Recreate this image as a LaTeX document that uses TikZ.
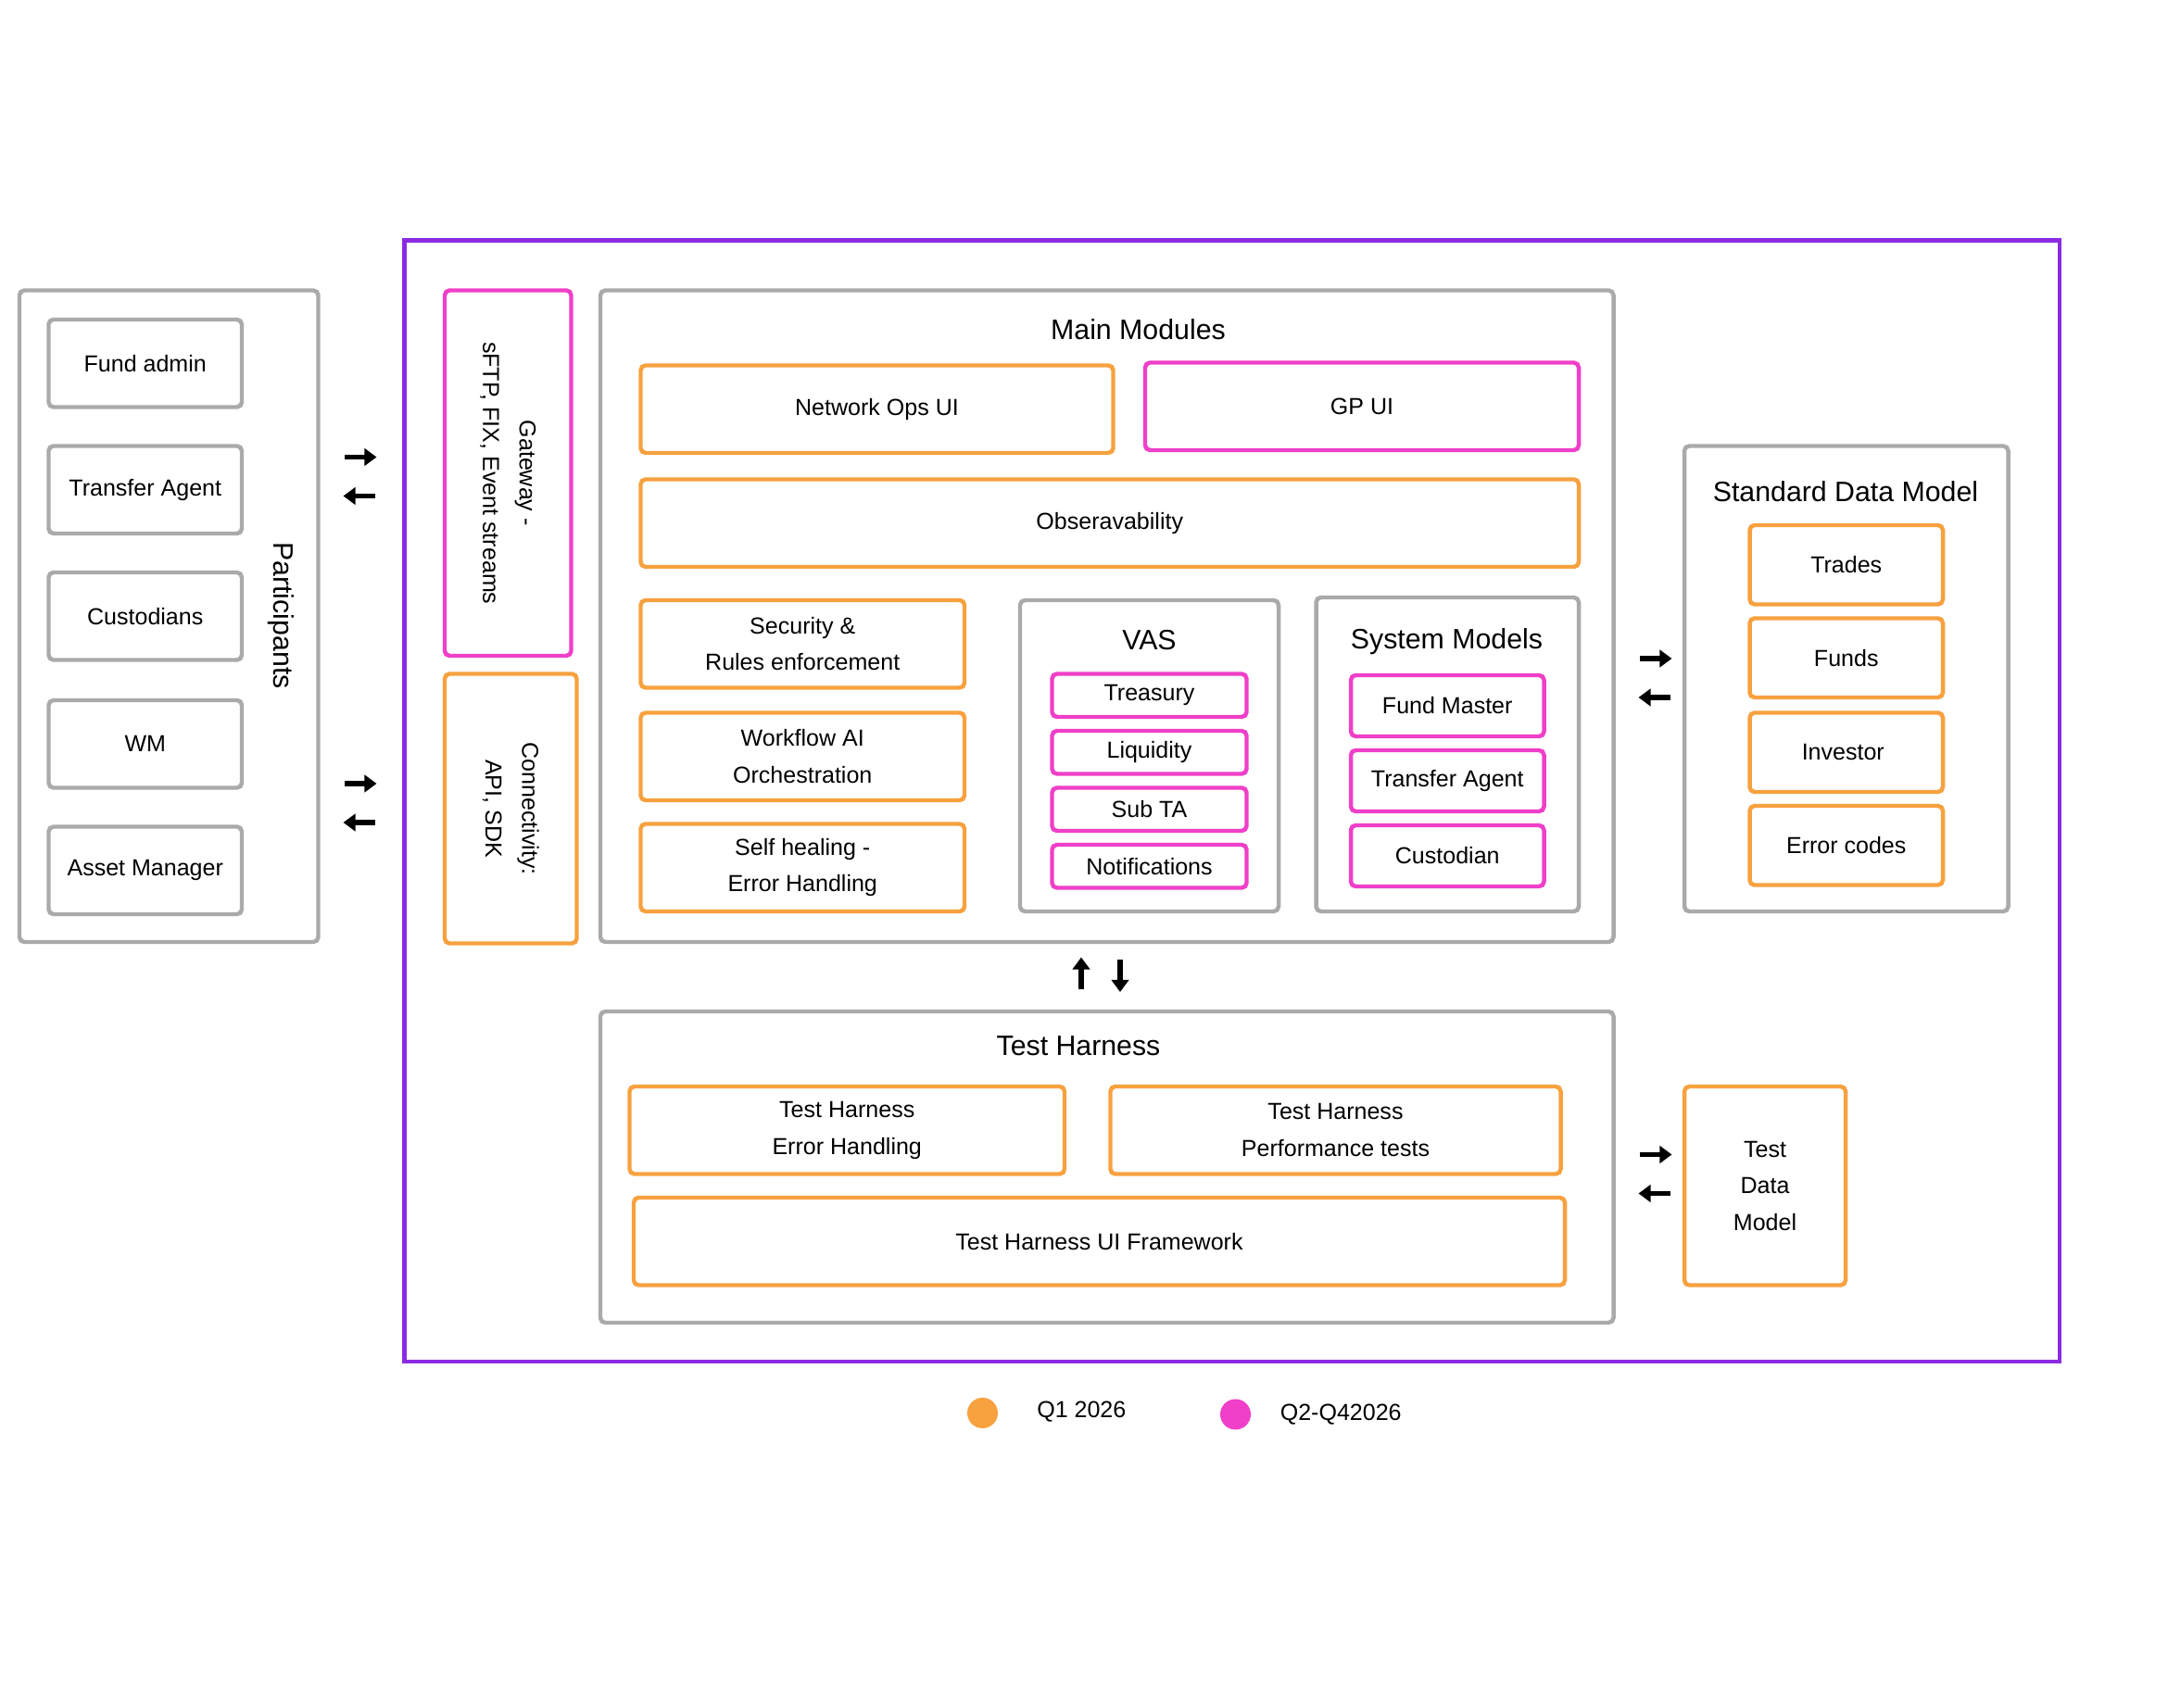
\documentclass[tikz,border=0pt]{standalone}
\usepackage{fontspec}
\setmainfont{Liberation Sans}
\usetikzlibrary{fit,arrows.meta}
\definecolor{qone}{HTML}{F7A13F}
\definecolor{qtwo}{HTML}{F03FC8}
\definecolor{frame}{HTML}{8A2BE2}
\definecolor{grey}{HTML}{AAAAAA}
\tikzset{
  box/.style={draw, line width=1.7pt, rounded corners=2pt, inner sep=0pt},
  gbox/.style={box, draw=grey},
  obox/.style={box, draw=qone},
  pbox/.style={box, draw=qtwo},
  txt/.style={align=center, font=\fontsize{9.5}{15}\selectfont},
  ttl/.style={font=\fontsize{11.5}{14}\selectfont},
  arr/.style={-{Triangle[length=5pt,width=7pt]}, line width=2pt}
}
\begin{document}
\begin{tikzpicture}[x=0.02cm, y=-0.02cm]
	\useasboundingbox (0,0) rectangle (1560,1229);
	% outer frame
	\node[box, draw=frame, rounded corners=0pt, fit={(291,173) (1482,980)}] (core) {};
	% participants
	\node[gbox, fit={(14,209) (229,678)}] (part) {};
	\node[ttl, rotate=-90] at (202,443) {Participants};
	\foreach \y/\t [count=\i] in {261/Fund admin, 352/Transfer Agent, 443/Custodians, 535/WM, 626/Asset Manager} {
		\node[gbox, fit={(35,\y-31) (174,\y+32)}] (p\i) {};
		\node[txt] at (p\i) {\t};
	}
	% connectivity
	\node[pbox, fit={(320,209) (411,472)}] (gate) {};
	\node[txt, rotate=-90] at (gate) {Gateway -\\sFTP, FIX, Event streams};
	\node[obox, fit={(320,485) (415,679)}] (conn) {};
	\node[txt, rotate=-90] at (conn) {Connectivity:\\API, SDK};
	% main modules
	\node[gbox, fit={(432,209) (1161,678)}] (main) {};
	\node[ttl] at (819,237) {Main Modules};
	\node[obox, fit={(461,263) (801,326)}] (netui) {};
	\node[txt] at (netui) {Network Ops UI};
	\node[pbox, fit={(824,261) (1136,324)}] (gpui) {};
	\node[txt] at (gpui) {GP UI};
	\node[obox, fit={(461,345) (1136,408)}] (obs) {};
	\node[txt] at (obs) {Obseravability};
	\foreach \y/\t [count=\i] in {463/Security \&\\Rules enforcement, 544/Workflow AI\\Orchestration, 624/Self healing -\\Error Handling} {
		\node[obox, fit={(461,\y-31) (694,\y+32)}] (m\i) {};
		\node[txt] at (m\i) {\t};
	}
	% VAS
	\node[gbox, fit={(734,432) (920,656)}] (vas) {};
	\node[ttl] at (827,461) {VAS};
	\foreach \y/\t [count=\i] in {500/Treasury, 541/Liquidity, 582/Sub TA, 623/Notifications} {
		\node[pbox, fit={(757,\y-15) (897,\y+16)}] (v\i) {};
		\node[txt] at (v\i) {\t};
	}
	% system models
	\node[gbox, fit={(947,430) (1136,656)}] (sysm) {};
	\node[ttl] at (1041,462) {System Models};
	\foreach \y/\t [count=\i] in {508/Fund Master, 562/Transfer Agent, 616/Custodian} {
		\node[pbox, fit={(972,\y-22) (1111,\y+22)}] (s\i) {};
		\node[txt] at (s\i) {\t};
	}
	% standard data model
	\node[gbox, fit={(1212,321) (1445,656)}] (sdm) {};
	\node[ttl] at (1328,354) {Standard Data Model};
	\foreach \y/\t [count=\i] in {406/Trades, 473/Funds, 541/Investor /\\Account Info, 608/Error codes} {
		\node[obox, fit={(1259,\y-28) (1398,\y+29)}] (d\i) {};
		\node[txt] at (d\i) {\t};
	}
	% test harness
	\node[gbox, fit={(432,728) (1161,952)}] (th) {};
	\node[ttl] at (776,753) {Test Harness};
	\node[obox, fit={(453,782) (766,845)}] (the) {};
	\node[txt] at (the) {Test Harness\\Error Handling};
	\node[obox, fit={(799,782) (1123,845)}] (thp) {};
	\node[txt] at (thp) {Test Harness\\Performance tests};
	\node[obox, fit={(456,862) (1126,925)}] (thu) {};
	\node[txt] at (thu) {Test Harness UI Framework};
	\node[obox, fit={(1212,782) (1328,925)}] (tdm) {};
	\node[txt] at (tdm) {Test\\Data\\Model};
	% arrows
	\foreach \y in {329,564} {
		\draw[arr] (248,\y) -- (271,\y);
		\draw[arr] (270,\y+28) -- (247,\y+28);
	}
	\foreach \y in {474,831} {
		\draw[arr] (1180,\y) -- (1203,\y);
		\draw[arr] (1202,\y+28) -- (1179,\y+28);
	}
	\draw[arr] (778,712) -- (778,689);
	\draw[arr] (806,691) -- (806,714);
	% legend
	\fill[qone] (707,1017) circle (11);
	\node[txt, anchor=west] at (740,1016) {Q1 2026};
	\fill[qtwo] (889,1018) circle (11);
	\node[txt, anchor=west] at (915,1018) {Q2-Q42026};
\end{tikzpicture}
\end{document}
